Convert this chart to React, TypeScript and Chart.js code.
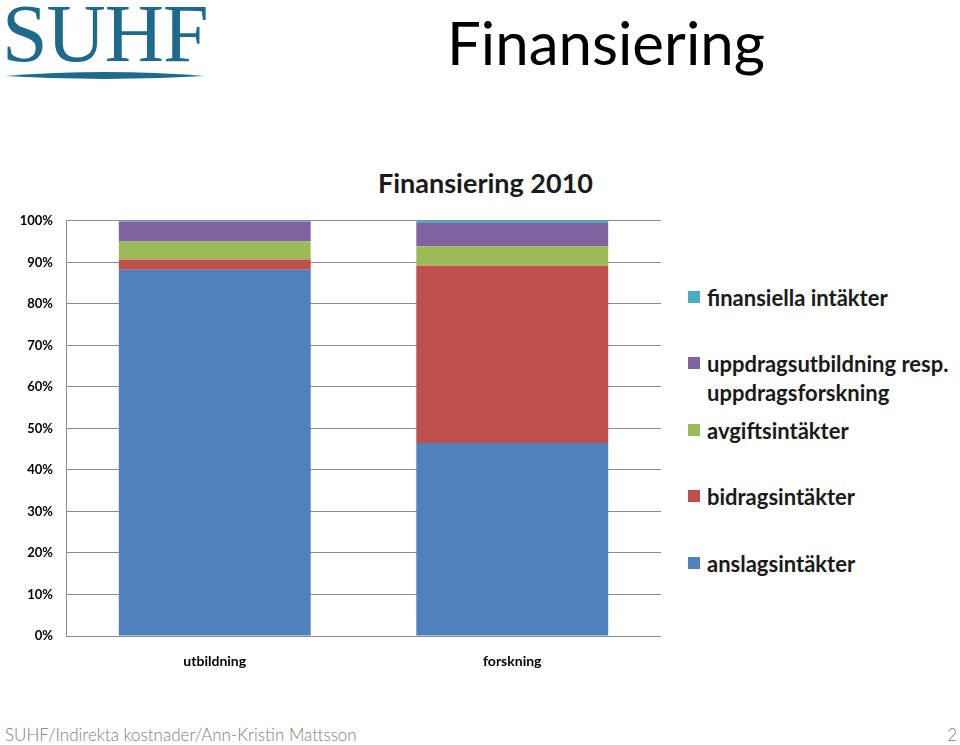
import { useEffect, useRef } from 'react';
import { Chart, registerables, type ChartConfiguration } from 'chart.js';

Chart.register(...registerables);

// category axis
const categories = ['utbildning', 'forskning'];

// share of financing (%) per category, bottom to top of the stack
const anslagsintakter = [88.2, 46.5];
const bidragsintakter = [2.5, 42.7];
const avgiftsintakter = [4.3, 4.7];
const uppdragsintakter = [4.75, 5.6];
const finansiellaIntakter = [0.25, 0.5];

const seriesLabels = [
  'anslagsintäkter',
  'bidragsintäkter',
  'avgiftsintäkter',
  'uppdragsutbildning resp.\nuppdragsforskning',
  'finansiella intäkter',
];
const seriesColors = ['#4F81BD', '#C0504D', '#9BBB59', '#8064A2', '#4BACC6'];
const seriesValues = [
  anslagsintakter,
  bidragsintakter,
  avgiftsintakter,
  uppdragsintakter,
  finansiellaIntakter,
];

// y position (centre of the first text line) of each legend row, top to bottom
const legendRowY = [297, 363, 430, 496, 563];

const FONT = 'Lato, "Open Sans", sans-serif';

function StackChart() {
  const canvasRef = useRef<HTMLCanvasElement>(null);
  const chartRef = useRef<Chart | null>(null);

  useEffect(() => {
    if (!canvasRef.current) return;

    const config: ChartConfiguration<'bar'> = {
      type: 'bar',
      data: {
        labels: categories,
        datasets: seriesValues.map((values, i) => ({
          label: seriesLabels[i],
          data: values,
          backgroundColor: seriesColors[i],
          borderWidth: 0,
          barPercentage: 0.645,
          categoryPercentage: 1,
        })),
      },
      options: {
        animation: false,
        responsive: true,
        maintainAspectRatio: false,
        layout: { padding: { top: 20, right: 19, bottom: 0, left: 0 } },
        plugins: {
          legend: { display: false },
          title: { display: false },
          tooltip: { enabled: false },
        },
        scales: {
          x: {
            stacked: true,
            grid: { display: false },
            border: { display: false },
            ticks: {
              color: '#000',
              padding: 9,
              font: { family: FONT, size: 14, weight: 'bold' },
            },
            afterFit: (scale) => { scale.height = 54; },
          },
          y: {
            stacked: true,
            min: 0,
            max: 100,
            grid: { color: '#8c8c8c', lineWidth: 1, drawTicks: false },
            border: { display: true, color: '#8c8c8c', width: 1 },
            ticks: {
              stepSize: 10,
              color: '#000',
              padding: 13,
              font: { family: FONT, size: 13, weight: 'bold' },
              callback: (v) => `${v}%`,
            },
            afterFit: (scale) => { scale.width = 66; },
          },
        },
      },
    };

    chartRef.current = new Chart(canvasRef.current, config);
    return () => { chartRef.current?.destroy(); chartRef.current = null; };
  }, []);

  return (
    <div style={{ position: 'absolute', left: 0, top: 200, width: 680, height: 490 }}>
      <canvas ref={canvasRef} role="img" aria-label="Finansiering 2010" />
    </div>
  );
}

function Legend() {
  // legend lists the series top-down in reverse stack order
  const order = seriesLabels.map((_, i) => i).reverse();
  return (
    <>
      {order.map((idx, row) => (
        <div key={idx} style={{ position: 'absolute', left: 688, top: legendRowY[row] - 14.5 }}>
          <div
            style={{
              position: 'absolute', left: 0, top: 8.5, width: 12, height: 12,
              background: seriesColors[idx],
            }}
          />
          <div
            style={{
              position: 'absolute', left: 19, top: 0, whiteSpace: 'pre', lineHeight: '29px',
              fontSize: 22, fontWeight: 700, color: '#1a1a1a', fontFamily: FONT,
            }}
          >
            {seriesLabels[idx]}
          </div>
        </div>
      ))}
    </>
  );
}

export default function App() {
  return (
    <div
      style={{
        position: 'fixed', left: 0, top: 0, width: 960, height: 745,
        background: '#fff', overflow: 'hidden', fontFamily: FONT,
      }}
    >
      {/* logo */}
      <div
        style={{
          position: 'absolute', left: 2, top: -7, lineHeight: 1, fontSize: 82,
          fontFamily: '"Liberation Serif", "DejaVu Serif", serif', color: '#1e6a8c',
          letterSpacing: -1,
        }}
      >
        SUHF
      </div>
      <svg style={{ position: 'absolute', left: 5, top: 69 }} width={200} height={13}>
        <path d="M0,7 Q100,-1 200,7 Q100,13 0,7 Z" fill="#1e6a8c" />
      </svg>

      <div style={{ position: 'absolute', left: 447, top: 12, lineHeight: 1, fontSize: 60, color: '#000' }}>
        Finansiering
      </div>

      <div
        style={{
          position: 'absolute', left: 0, width: 971, top: 169, textAlign: 'center',
          lineHeight: 1, fontSize: 27, fontWeight: 700, color: '#1a1a1a',
        }}
      >
        Finansiering 2010
      </div>

      <StackChart />
      <Legend />

      <div style={{ position: 'absolute', left: 5, top: 726, lineHeight: 1, fontSize: 17, fontWeight: 300, color: '#808080' }}>
        SUHF/Indirekta kostnader/Ann-Kristin Mattsson
      </div>
      <div style={{ position: 'absolute', right: 3, top: 726, lineHeight: 1, fontSize: 17, fontWeight: 300, color: '#808080' }}>
        2
      </div>
    </div>
  );
}
